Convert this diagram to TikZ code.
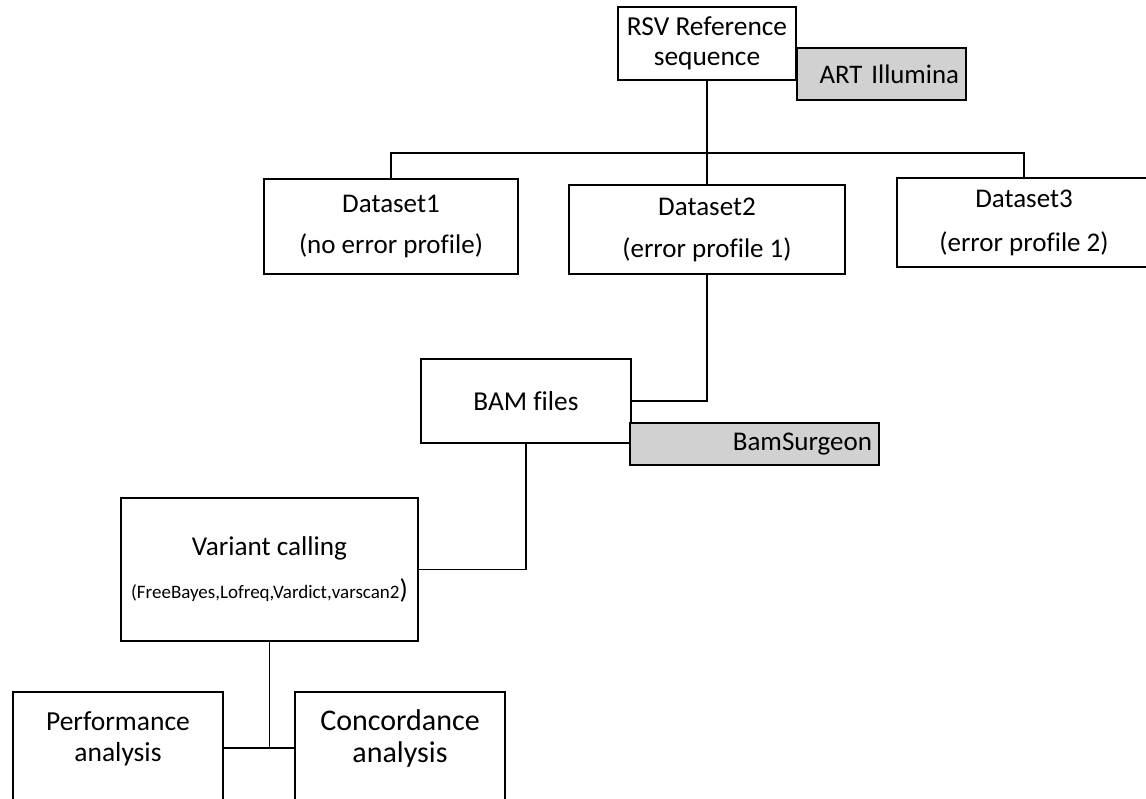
\documentclass[tikz,border=0pt]{standalone}
\usepackage{fontspec}
\setmainfont[Ligatures=NoCommon]{Carlito}
\usepackage{tikz}
\usetikzlibrary{calc,positioning}
\definecolor{toolgray}{RGB}{209,209,209}

\begin{document}
\begin{tikzpicture}[x=1pt,y=-1pt,
	box/.style={draw,line width=1.9pt,inner sep=0pt,align=center},
	tool/.style={box,fill=toolgray,align=right,inner xsep=7pt},
	link/.style={line width=1.9pt}]
		\useasboundingbox (0,0) rectangle (1146,798);
		\begin{scope}
			\node(rsv) at (707,43.5) [box,minimum width=178pt,minimum height=73pt,font=\fontsize{27.4}{30}\selectfont] {RSV Reference\\sequence};
			\node(art) at (881.5,74) [tool,minimum height=52pt,text width=155pt,font=\fontsize{26.8}{30}\selectfont] {ART Illumina};
			\node(d1) at (391,226.5) [box,minimum width=254pt,minimum height=95pt,font=\fontsize{27}{41}\selectfont] {Dataset1\\(no error profile)};
			\node(d2) at (707,229.5) [box,minimum width=276pt,minimum height=89pt,font=\fontsize{27}{42}\selectfont] {Dataset2\\(error profile 1)};
			\node(d3) at (1024,222.5) [box,minimum width=254pt,minimum height=89pt,font=\fontsize{27}{44}\selectfont] {Dataset3\\(error profile 2)};
			\node(bam) at (526,401) [box,minimum width=210pt,minimum height=84pt,font=\fontsize{27.3}{30}\selectfont] {BAM files};
			\node(surg) at (754.5,444) [tool,minimum height=42pt,text width=235pt,font=\fontsize{27}{30}\selectfont] {BamSurgeon};
			\node(var) at (269.5,569.5) [box,minimum width=297pt,minimum height=143pt,font=\fontsize{27.2}{43}\selectfont] {Variant calling\\{\fontsize{19}{22}\selectfont(FreeBayes,Lofreq,Vardict,varscan2})};
			\node(perf) at (118,748) [box,minimum width=210pt,minimum height=112pt] {};
			\node(conc) at (400,748) [box,minimum width=210pt,minimum height=112pt] {};
			\node(perftxt) at (118,738.5) [font=\fontsize{27.5}{31}\selectfont,align=center] {Performance\\analysis};
			\node(conctxt) at (400,738.5) [font=\fontsize{30}{32}\selectfont,align=center] {Concordance\\analysis};
			\coordinate(split) at (707,153);
			\draw[link] (rsv) -- (d2);
			\draw[link] (d1.north) |- (split) -| (d3.north);
			\draw[link] (d2) |- (bam);
			\draw[link] (bam) |- (var);
			\draw[link] (var.south) -- (var.south |- perf.east);
			\draw[link] (perf) -- (conc);
		\end{scope}
	\end{tikzpicture}
\end{document}
